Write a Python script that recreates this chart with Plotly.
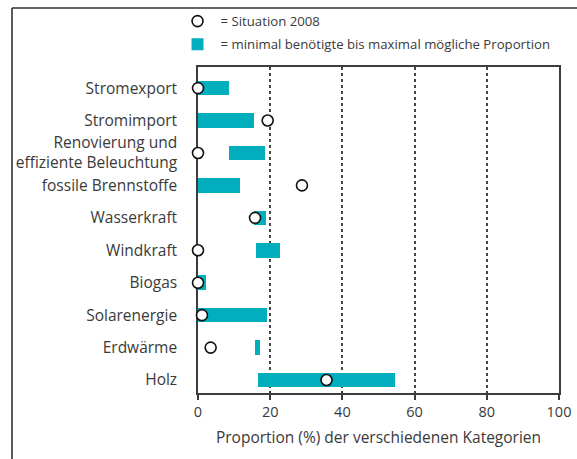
import plotly.graph_objects as go

categories = ["Stromexport", "Stromimport", "Renovierung und<br>effiziente Beleuchtung",
              "fossile Brennstoffe", "Wasserkraft", "Windkraft", "Biogas",
              "Solarenergie", "Erdwärme", "Holz"]
min_prop = [0.0, 0.0, 8.6, 0.0, 15.5, 16.2, 0.0, 0.0, 15.9, 16.6]
max_prop = [8.6, 15.5, 18.6, 11.7, 18.7, 22.6, 2.2, 19.1, 17.2, 54.5]
situation_2008 = [0.0, 19.3, 0.0, 28.8, 15.8, 0.0, 0.0, 1.1, 3.5, 35.6]
x_ticks = [0, 20, 40, 60, 80, 100]

FONT = "Open Sans"
TXT = "#3a3a3a"
LINE = "#3c3c3c"

fig = go.Figure()
fig.add_trace(go.Bar(
    x=[mx - mn for mn, mx in zip(min_prop, max_prop)], base=min_prop,
    y=categories, orientation="h", width=0.45,
    name="= minimal benötigte bis maximal mögliche Proportion",
    legendgroup="b", legendrank=2,
    marker=dict(color="#00aebd", line=dict(width=0)),
))
fig.add_trace(go.Scatter(
    x=situation_2008, y=categories, mode="markers",
    name="= Situation 2008", legendgroup="a", legendrank=1,
    marker=dict(symbol="circle", size=11, color="white",
                line=dict(color="#111111", width=1.6)),
    cliponaxis=False,
))

fig.update_layout(
    width=577, height=459,
    margin=dict(l=198, r=18, t=67, b=66, autoexpand=False),
    paper_bgcolor="white", plot_bgcolor="white",
    font=dict(family=FONT, color=TXT, size=14),
    showlegend=True,
    legend=dict(x=-0.065, y=1.187, xanchor="left", yanchor="top",
                font=dict(size=13.2, color=TXT),
                itemwidth=36, tracegroupgap=3, bgcolor="rgba(0,0,0,0)"),
    bargap=0,
)
fig.update_xaxes(
    range=[0, 100], tickvals=x_ticks, ticktext=[str(v) for v in x_ticks],
    showline=True, linecolor=LINE, linewidth=1.5, mirror=True,
    ticks="outside", ticklen=5, tickcolor=LINE, tickwidth=1.5,
    showgrid=True, gridcolor="#444444", griddash="dot", gridwidth=1.5,
    zeroline=False, layer="below traces",
    tickfont=dict(size=14.5, color=TXT),
    title=dict(text="Proportion (%) der verschiedenen Kategorien",
               font=dict(size=15.5, color=TXT), standoff=12),
)
fig.update_yaxes(
    categoryorder="array", categoryarray=categories[::-1],
    range=[-0.4, 9.65], autorange=False,
    showline=True, linecolor=LINE, linewidth=1.5, mirror=True,
    ticks="", showgrid=False, zeroline=False, layer="below traces",
    ticklabelstandoff=16, tickfont=dict(size=15.5, color=TXT),
)

# outer frame lines (top and left)
fig.add_shape(type="line", xref="paper", yref="paper",
              x0=(12 - 198) / 361, x1=(577 - 198) / 361,
              y0=(393 - 8) / 326, y1=(393 - 8) / 326,
              line=dict(color="#333333", width=1.6))
fig.add_shape(type="line", xref="paper", yref="paper",
              x0=(12 - 198) / 361, x1=(12 - 198) / 361,
              y0=(393 - 8) / 326, y1=(393 - 459) / 326,
              line=dict(color="#333333", width=1.6))

fig.write_html("out.html", config={"displayModeBar": False},
               post_script="document.body.style.margin='0';")
